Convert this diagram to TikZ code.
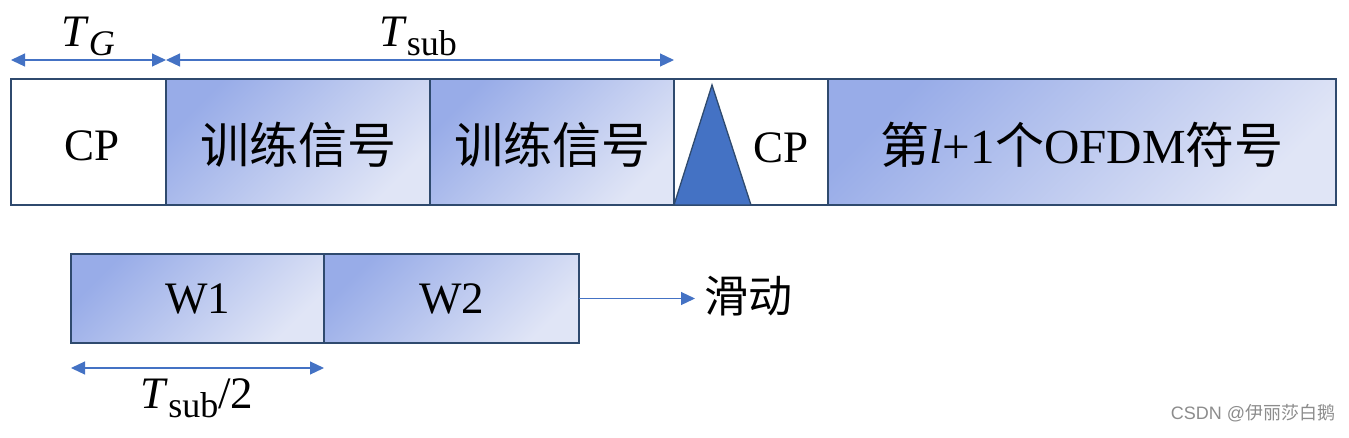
\documentclass[tikz,border=0pt]{standalone}
\usepackage{fontspec}
\setmainfont{Liberation Serif}
\newfontfamily\cjk{Noto Sans CJK SC}
\newfontfamily\wmfont{Liberation Sans}
\usetikzlibrary{arrows.meta}
\definecolor{edge}{RGB}{47,74,110}
\definecolor{gdark}{RGB}{152,172,232}
\definecolor{glight}{RGB}{224,229,246}
\definecolor{accent}{RGB}{68,114,196}
\tikzset{
  box/.style={draw=edge, line width=1.6pt, inner sep=0pt, outer sep=0pt, anchor=north west},
  gbox/.style={box, top color=gdark, bottom color=glight, shading angle=45},
  wbox/.style={box, fill=white},
  dim/.style={draw=accent, line width=1.2pt, {Triangle[length=14pt,width=13pt]}-{Triangle[length=14pt,width=13pt]}},
  sarrow/.style={draw=accent, line width=1.2pt, -{Triangle[length=14pt,width=13pt]}},
  lbl/.style={inner sep=0pt, font=\fontsize{45}{50}\selectfont},
  cjklbl/.style={inner sep=0pt, font=\fontsize{49}{53}\selectfont},
}
\newcommand{\Tsym}[1]{\textit{T}\raisebox{-0.2em}{\fontsize{36}{38}\selectfont #1}}
\begin{document}
\begin{tikzpicture}[x=1pt,y=-1pt]
\useasboundingbox (0,0) rectangle (1349,437);
% top row
\node[wbox, minimum width=155pt, minimum height=126pt] (cp1) at (11,79) {};
\node[gbox, minimum width=264pt, minimum height=126pt] (tr1) at (166,79) {};
\node[gbox, minimum width=244pt, minimum height=126pt] (tr2) at (430,79) {};
\node[wbox, minimum width=154pt, minimum height=126pt] (cp2) at (674,79) {};
\node[gbox, minimum width=508pt, minimum height=126pt] (sym) at (828,79) {};
\draw[draw=edge, line width=1.3pt, fill=accent] (cp2.south west) -- (712,85) -- (751,205) -- cycle;
\node[lbl] (cp1t) at (92,146) {CP};
\node[cjklbl] (tr1t) at (298,145) {\cjk 训练信号};
\node[cjklbl] (tr2t) at (552,145) {\cjk 训练信号};
\node[lbl] (cp2t) at (781,148) {CP};
\node[cjklbl] (symt) at (1082,145) {{\cjk 第}\textit{l}+1{\cjk 个}OFDM{\cjk 符号}};
% top dimension arrows
\coordinate (d0) at (11,60);
\coordinate (d1) at (166,60);
\coordinate (d2) at (674,60);
\draw[dim] (d0) -- (d1);
\draw[dim] (d1) -- (d2);
\node[lbl, anchor=base] (tg) at (88,46) {\Tsym{\textit{G}}};
\node[lbl, anchor=base] (tsub) at (418,46) {\Tsym{sub}};
% bottom row
\node[gbox, minimum width=253pt, minimum height=89pt] (w1) at (71,254) {};
\node[gbox, minimum width=255pt, minimum height=89pt] (w2) at (324,254) {};
\node[lbl] (w1t) at (w1.center) {W1};
\node[lbl] (w2t) at (w2.center) {W2};
\coordinate (sl) at (695,297);
\draw[sarrow] (w2.east) -- (w2.east -| sl);
\node[cjklbl, anchor=west, font=\cjk\fontsize{44}{48}\selectfont] (slide) at (704,296) {滑动};
\coordinate (h0) at (71,368);
\coordinate (h1) at (324,368);
\draw[dim] (h0) -- (h1);
\node[lbl, anchor=base] (half) at (197,408) {\Tsym{sub}/2};
% watermark
\node[inner sep=0pt, text=black!45, font=\fontsize{18}{20}\selectfont] (wm) at (1253,413) {\wmfont CSDN @\cjk 伊丽莎白鹅};
\end{tikzpicture}
\end{document}
